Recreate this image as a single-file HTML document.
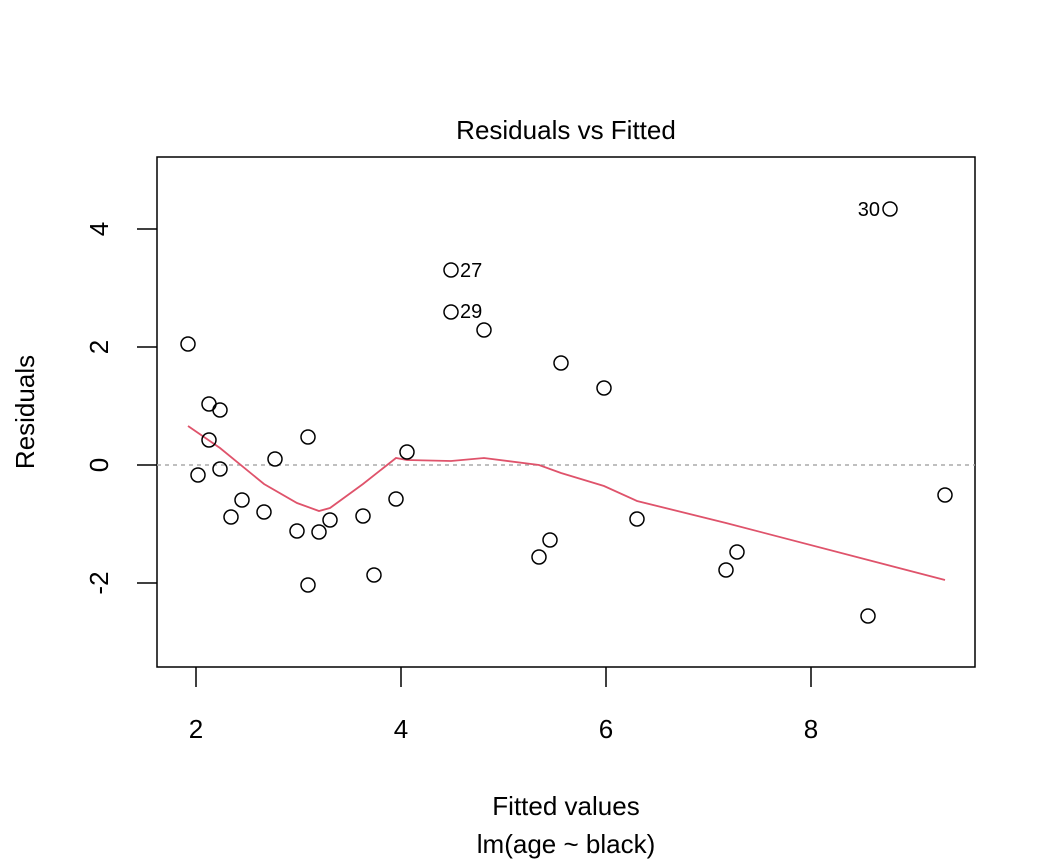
<!DOCTYPE html>
<html><head><meta charset="utf-8"><style>
html,body{margin:0;padding:0;background:#fff;}
svg{display:block;font-family:"Liberation Sans",Arial,sans-serif;}
</style></head><body>
<svg width="1056" height="864" viewBox="0 0 1056 864" xmlns="http://www.w3.org/2000/svg">
<rect width="1056" height="864" fill="#fff"/>
<rect x="157" y="157" width="818" height="510" fill="none" stroke="#000" stroke-width="1.5"/>
<line x1="157" y1="465" x2="975" y2="465" stroke="#aaa" stroke-width="1.5" stroke-dasharray="4,4"/>
<g stroke="#000" stroke-width="1.5">
<line x1="196" y1="667" x2="196" y2="687"/><line x1="401" y1="667" x2="401" y2="687"/>
<line x1="606" y1="667" x2="606" y2="687"/><line x1="811" y1="667" x2="811" y2="687"/>
<line x1="137" y1="229" x2="157" y2="229"/><line x1="137" y1="347" x2="157" y2="347"/>
<line x1="137" y1="465" x2="157" y2="465"/><line x1="137" y1="583" x2="157" y2="583"/>
</g>
<g font-size="26" text-anchor="middle" fill="#000">
<text x="196" y="738">2</text><text x="401" y="738">4</text><text x="606" y="738">6</text><text x="811" y="738">8</text>
<text transform="translate(108,229) rotate(-90)">4</text>
<text transform="translate(108,347) rotate(-90)">2</text>
<text transform="translate(108,465) rotate(-90)">0</text>
<text transform="translate(108,583) rotate(-90)">-2</text>
<text transform="translate(34,412) rotate(-90)">Residuals</text>
<text x="566" y="815">Fitted values</text>
<text x="566" y="853">lm(age ~ black)</text>
<text x="566" y="139">Residuals vs Fitted</text>
</g>
<polyline fill="none" stroke="#DF536B" stroke-width="1.8" points="188,426 220,448 264,484 297,503 319,511 330,508 363,484 396,458 407,460 451,461 484,458 539,465 561,473 604,486 637,501 726,523 945,580"/>
<g fill="none" stroke="#000" stroke-width="1.5">
<circle cx="188" cy="344" r="7"/><circle cx="198" cy="475" r="7"/><circle cx="209" cy="404" r="7"/><circle cx="209" cy="440" r="7"/>
<circle cx="220" cy="410" r="7"/><circle cx="220" cy="469" r="7"/><circle cx="231" cy="517" r="7"/><circle cx="242" cy="500" r="7"/>
<circle cx="264" cy="512" r="7"/><circle cx="275" cy="459" r="7"/><circle cx="297" cy="531" r="7"/><circle cx="308" cy="437" r="7"/>
<circle cx="308" cy="585" r="7"/><circle cx="319" cy="532" r="7"/><circle cx="330" cy="520" r="7"/><circle cx="363" cy="516" r="7"/>
<circle cx="374" cy="575" r="7"/><circle cx="396" cy="499" r="7"/><circle cx="407" cy="452" r="7"/><circle cx="451" cy="270" r="7"/>
<circle cx="451" cy="312" r="7"/><circle cx="484" cy="330" r="7"/><circle cx="539" cy="557" r="7"/><circle cx="550" cy="540" r="7"/>
<circle cx="561" cy="363" r="7"/><circle cx="604" cy="388" r="7"/><circle cx="637" cy="519" r="7"/><circle cx="726" cy="570" r="7"/>
<circle cx="737" cy="552" r="7"/><circle cx="868" cy="616" r="7"/><circle cx="890" cy="209" r="7"/><circle cx="945" cy="495" r="7"/>
</g>
<g font-size="20" fill="#000">
<text x="460" y="277">27</text>
<text x="460" y="318">29</text>
<text x="880" y="216" text-anchor="end">30</text>
</g>
</svg>
</body></html>
